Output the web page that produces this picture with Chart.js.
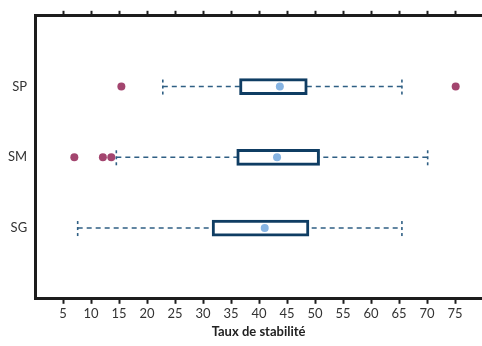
<!DOCTYPE html>
<html>
<head>
<meta charset="utf-8">
<script src="https://cdn.jsdelivr.net/npm/chart.js@4.4.1/dist/chart.umd.min.js"></script>
<style>
  html, body { margin: 0; padding: 0; background: #fff; }
  #wrap { width: 482px; height: 346px; }
</style>
</head>
<body>
<div id="wrap"><canvas id="boxChart" width="482" height="346"></canvas></div>
<script>
// categories, top to bottom
var groups = ['SP', 'SM', 'SG'];
var groupPos = [3, 2, 1];
// box plot values
var whiskerLow = [22.8, 14.5, 7.6];
var q1 = [36.5, 36.0, 31.6];
var q3 = [48.6, 50.8, 48.9];
var whiskerHigh = [65.5, 70.1, 65.5];
var means = [43.7, 43.2, 41.0];
var outliers = [[15.4, 75.1], [7.0, 12.1, 13.6], []];
var xTicks = [5, 10, 15, 20, 25, 30, 35, 40, 45, 50, 55, 60, 65, 70, 75];

var FONT = "Lato, 'Open Sans', sans-serif";
var boxHalf = 0.113;

var datasets = [];

// boxes as floating horizontal bars
datasets.push({
	type: 'bar',
	indexAxis: 'y',
	data: groups.map(function(g, i) { return {x: [q1[i], q3[i]], y: groupPos[i]}; }),
	backgroundColor: '#ffffff',
	borderColor: '#0f3d63',
	borderWidth: 3,
	borderSkipped: false,
	barThickness: 16,
	order: 1
});

groups.forEach(function(g, i) {
	var y = groupPos[i];
	// dashed whisker
	datasets.push({
		type: 'line',
		data: [{x: whiskerLow[i], y: y}, {x: whiskerHigh[i], y: y}],
		borderColor: '#2f5f84',
		borderWidth: 1.6,
		borderDash: [5, 4],
		pointRadius: 0,
		order: 3
	});
	// dotted caps
	[whiskerLow[i], whiskerHigh[i]].forEach(function(v) {
		datasets.push({
			type: 'line',
			data: [{x: v, y: y - boxHalf}, {x: v, y: y + boxHalf}],
			borderColor: '#2f5f84',
			borderWidth: 1.6,
			borderDash: [3, 3],
			pointRadius: 0,
			order: 3
		});
	});
});

// means
datasets.push({
	type: 'scatter',
	data: groups.map(function(g, i) { return {x: means[i], y: groupPos[i]}; }),
	backgroundColor: '#86b4e3',
	borderWidth: 0,
	pointRadius: 4,
	order: 0
});

// outliers
var outPts = [];
groups.forEach(function(g, i) {
	outliers[i].forEach(function(v) { outPts.push({x: v, y: groupPos[i]}); });
});
datasets.push({
	type: 'scatter',
	data: outPts,
	backgroundColor: '#a3456f',
	borderWidth: 0,
	pointRadius: 4,
	order: 0
});

var axisColor = '#1c1c1c';

new Chart(document.getElementById('boxChart').getContext('2d'), {
	type: 'scatter',
	data: {datasets: datasets},
	options: {
		responsive: false,
		animation: false,
		layout: {autoPadding: false, padding: {top: 4, right: 0, left: 0, bottom: 6}},
		plugins: {legend: {display: false}, tooltip: {enabled: false}},
		scales: {
			x: {
				type: 'linear',
				position: 'bottom',
				min: 0,
				max: 79.8,
				offset: false,
				afterBuildTicks: function(s) { s.ticks = xTicks.map(function(v) { return {value: v}; }); },
				grid: {drawOnChartArea: false, drawTicks: true, tickLength: 5, tickWidth: 2, tickColor: axisColor},
				border: {display: true, color: axisColor, width: 3},
				ticks: {color: '#333', font: {family: FONT, size: 13}, padding: 2, maxRotation: 0},
				title: {display: true, text: 'Taux de stabilité', color: '#222', font: {family: FONT, size: 13, weight: 'bold'}, padding: {top: 1, bottom: 0}}
			},
			x2: {
				type: 'linear',
				position: 'top',
				min: 0,
				max: 79.8,
				offset: false,
				afterBuildTicks: function(s) { s.ticks = xTicks.map(function(v) { return {value: v}; }); },
				grid: {drawOnChartArea: false, drawTicks: true, tickLength: 5, tickWidth: 2, tickColor: axisColor},
				border: {display: true, color: axisColor, width: 3},
				ticks: {display: false}
			},
			y: {
				type: 'linear',
				min: 0,
				max: 4,
				offset: false,
				afterBuildTicks: function(s) { s.ticks = groupPos.map(function(v) { return {value: v}; }); },
				grid: {display: false, drawTicks: false},
				border: {display: true, color: axisColor, width: 3},
				ticks: {
					color: '#333',
					font: {family: FONT, size: 13},
					padding: 8,
					callback: function(v) { var k = groupPos.indexOf(v); return k >= 0 ? groups[k] : ''; }
				}
			}
		}
	}
});
</script>
</body>
</html>
